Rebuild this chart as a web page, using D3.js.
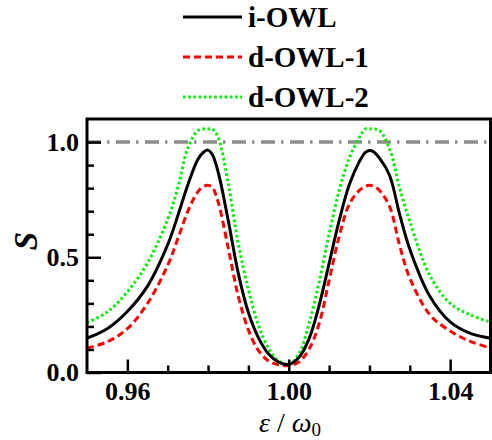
<!DOCTYPE html>
<html><head><meta charset="utf-8">
<script src="https://cdn.jsdelivr.net/npm/d3@7"></script>
<style>body{margin:0;background:#fff}svg{display:block}</style>
</head><body><svg id="c" width="492" height="440"></svg>
<script>
const xValues = [0.950,0.955,0.960,0.965,0.970,0.9725,0.975,0.9775,0.979,0.980,0.981,0.9825,0.985,0.9875,0.990,0.9925,0.995,0.9975,1.000,1.0025,1.005,1.0075,1.010,1.0125,1.015,1.0175,1.019,1.020,1.021,1.0225,1.025,1.0275,1.030,1.035,1.040,1.045,1.050];
const iOWL   = [0.149,0.19,0.265,0.375,0.555,0.68,0.815,0.925,0.958,0.965,0.948,0.87,0.66,0.43,0.26,0.15,0.08,0.045,0.035,0.065,0.145,0.289,0.473,0.66,0.815,0.915,0.955,0.963,0.958,0.93,0.855,0.685,0.535,0.33,0.22,0.17,0.149];
const dOWL1  = [0.106,0.133,0.19,0.30,0.465,0.58,0.70,0.785,0.808,0.812,0.805,0.74,0.54,0.33,0.185,0.095,0.05,0.033,0.03,0.045,0.10,0.21,0.40,0.59,0.73,0.79,0.808,0.812,0.808,0.79,0.72,0.55,0.41,0.25,0.18,0.135,0.106];
const dOWL2  = [0.216,0.262,0.35,0.475,0.665,0.80,0.975,1.05,1.057,1.057,1.057,1.02,0.82,0.56,0.36,0.205,0.105,0.05,0.035,0.08,0.21,0.39,0.60,0.79,0.93,1.02,1.057,1.057,1.057,1.05,0.97,0.80,0.655,0.42,0.30,0.25,0.219];
const seriesNames = ["i-OWL","d-OWL-1","d-OWL-2"];
const refLine = 1.0;
const xMajorTicks = [0.96,1.00,1.04];
const xMajorLabels = ["0.96","1.00","1.04"];
const xMinorTicks = [0.97,0.98,0.99,1.01,1.02,1.03];
const yMajorTicks = [0.0,0.5,1.0];
const yMajorLabels = ["0.0","0.5","1.0"];
const yMinorTicks = [0.1,0.2,0.3,0.4,0.6,0.7,0.8,0.9];

const svg = d3.select("#c");
const L=87, R=490.5, T=119, B=372.5;
const x = d3.scaleLinear().domain([0.95,1.05]).range([L,R]);
const y = d3.scaleLinear().domain([0,1.1]).range([B,T]);
const font = '"Liberation Serif", Tinos, "Times New Roman", "DejaVu Serif", serif';

svg.append("defs").append("clipPath").attr("id","clip")
  .append("rect").attr("x",L).attr("y",T).attr("width",R-L).attr("height",B-T);

const styles = [
  {color:"#000000", dash:null, w:3},
  {color:"#ff0000", dash:"7,4", w:3},
  {color:"#00ee00", dash:"2.6,2.6", w:3}
];
const data = [iOWL,dOWL1,dOWL2];

const g = svg.append("g").attr("clip-path","url(#clip)");
g.append("line").attr("x1",L).attr("x2",R).attr("y1",y(refLine)).attr("y2",y(refLine))
  .attr("stroke","#8c8c8c").attr("stroke-width",3.5).attr("stroke-dasharray","14,6,2.5,6.5");

const line = d3.line().curve(d3.curveCatmullRom.alpha(0.5)).x(d=>x(d[0])).y(d=>y(d[1]));
[2,1,0].forEach(i=>{
  g.append("path").datum(xValues.map((xv,j)=>[xv,data[i][j]]))
    .attr("d",line).attr("fill","none").attr("stroke",styles[i].color)
    .attr("stroke-width",styles[i].w).attr("stroke-dasharray",styles[i].dash);
});

function styleAxis(sel){
  sel.attr("font-family",font).attr("font-size",26).attr("font-weight","bold");
  sel.select(".domain").remove();
  sel.selectAll(".tick line").attr("stroke","#000").attr("stroke-width",2.5);
  sel.selectAll("text").attr("fill","#000");
}
function minor(sel){ sel.select(".domain").remove(); sel.selectAll(".tick text").remove();
  sel.selectAll(".tick line").attr("stroke","#000").attr("stroke-width",2.5); }
svg.append("g").attr("transform",`translate(0,${B})`)
  .call(d3.axisBottom(x).tickValues(xMinorTicks).tickSize(-7)).call(minor);
svg.append("g").attr("transform",`translate(0,${B})`)
  .call(d3.axisBottom(x).tickValues(xMajorTicks).tickSize(-13).tickPadding(9)
    .tickFormat((d,i)=>xMajorLabels[i]))
  .call(styleAxis);
svg.append("g").attr("transform",`translate(${L},0)`)
  .call(d3.axisLeft(y).tickValues(yMinorTicks).tickSize(-7)).call(minor);
svg.append("g").attr("transform",`translate(${L},0)`)
  .call(d3.axisLeft(y).tickValues(yMajorTicks).tickSize(-14).tickPadding(8)
    .tickFormat((d,i)=>yMajorLabels[i]))
  .call(styleAxis);

svg.append("rect").attr("x",L).attr("y",T).attr("width",R-L).attr("height",B-T)
  .attr("fill","none").attr("stroke","#000").attr("stroke-width",3);

const xt = svg.append("text").attr("x",290).attr("y",432).attr("text-anchor","middle")
  .attr("font-family",font).attr("font-size",28).attr("fill","#000");
xt.append("tspan").attr("font-style","italic").text("ε");
xt.append("tspan").text(" / ");
xt.append("tspan").attr("font-style","italic").text("ω");
xt.append("tspan").attr("font-size",19).attr("dy",4).text("0");

svg.append("text").attr("transform","translate(37,241) rotate(-90)").attr("text-anchor","middle")
  .attr("font-family",font).attr("font-size",33).attr("font-weight","bold").attr("font-style","italic")
  .text("S");

const ly=[17,57,97];
seriesNames.forEach((n,i)=>{
  svg.append("line").attr("x1",183).attr("x2",242).attr("y1",ly[i]).attr("y2",ly[i])
    .attr("stroke",styles[i].color).attr("stroke-width",3).attr("stroke-dasharray",styles[i].dash);
  svg.append("text").attr("x",248).attr("y",ly[i]+10).attr("font-family",font)
    .attr("font-weight","bold").attr("font-size",29).text(n);
});
</script></body></html>
